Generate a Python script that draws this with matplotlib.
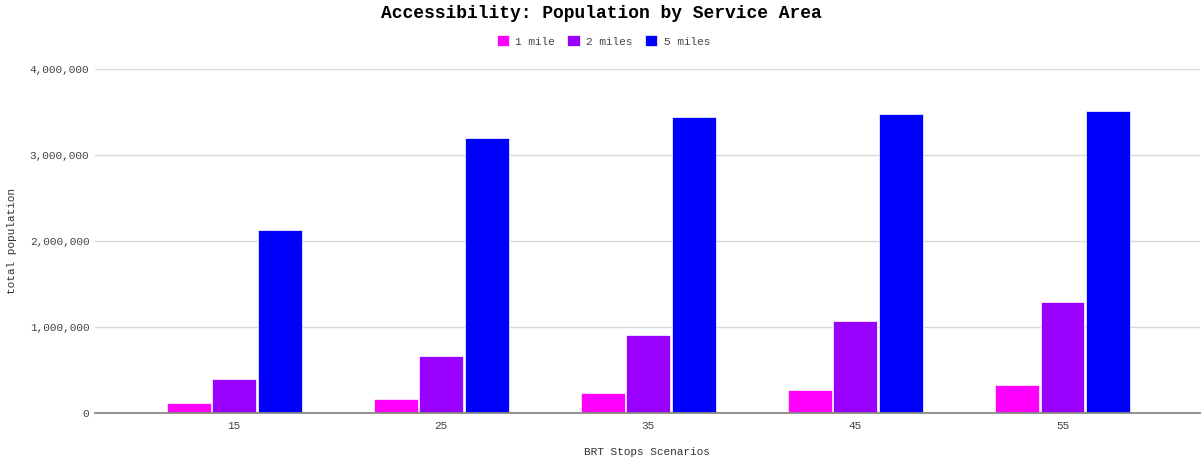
import matplotlib
matplotlib.use("Agg")
import matplotlib.pyplot as plt
import numpy as np
from matplotlib.ticker import FuncFormatter

# data
scenarios = ["15", "25", "35", "45", "55"]
one_mile = [120000, 165000, 230000, 270000, 325000]
two_miles = [400000, 660000, 910000, 1075000, 1290000]
five_miles = [2130000, 3200000, 3440000, 3475000, 3515000]
series_names = ["1 mile", "2 miles", "5 miles"]
colors = ["#ff00ff", "#9900ff", "#0000ff"]

plt.rcParams["font.family"] = ["Liberation Mono", "DejaVu Sans Mono"]

fig = plt.figure(figsize=(12.02, 4.63), dpi=100)
ax = fig.add_axes([0.079, 0.108, 0.919, 0.743])

x = np.arange(len(scenarios))
width = 0.212
step = 0.22
for i, (vals, name, c) in enumerate(zip([one_mile, two_miles, five_miles], series_names, colors)):
    ax.bar(x + (i - 1) * step, vals, width, color=c, label=name,
           edgecolor="white", linewidth=0.5, zorder=3)

ax.set_xlim(-0.672, 4.662)
ax.set_ylim(0, 4000000)
ax.set_yticks([0, 1000000, 2000000, 3000000, 4000000])
ax.yaxis.set_major_formatter(FuncFormatter(lambda v, p: f"{int(v):,}"))
ax.set_xticks(x)
ax.set_xticklabels(scenarios)

ax.grid(axis="y", color="#d9d9d9", linewidth=1, zorder=0)
for s in ["top", "right", "left"]:
    ax.spines[s].set_visible(False)
ax.spines["bottom"].set_color("#888888")
ax.spines["bottom"].set_linewidth(1.3)
ax.spines["bottom"].set_zorder(4)
ax.tick_params(axis="both", length=0, labelsize=8, labelcolor="#444444")
ax.tick_params(axis="y", pad=4)
ax.tick_params(axis="x", pad=6)

ax.set_xlabel("BRT Stops Scenarios", fontsize=8, color="#333333")
ax.set_ylabel("total population", fontsize=8, color="#333333")
ax.xaxis.set_label_coords(0.5, -0.098)
ax.yaxis.set_label_coords(-0.071, 0.5)

fig.suptitle("Accessibility: Population by Service Area", fontsize=13,
             fontweight="bold", y=0.99, va="top", x=0.5)

handles, labels = ax.get_legend_handles_labels()
fig.legend(handles, labels, loc="center", bbox_to_anchor=(0.502, 1 - 41 / 463),
           ncol=3, frameon=False, fontsize=8, handlelength=1.1, handleheight=1.1,
           handletextpad=0.6, columnspacing=1.1, labelcolor="#444444")

fig.savefig("out.png", dpi=100)
